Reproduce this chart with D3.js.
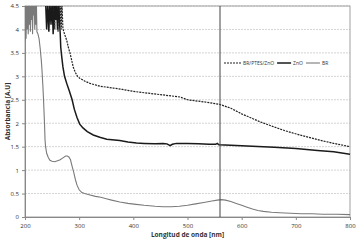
<!DOCTYPE html>
<html>
<head>
<meta charset="utf-8">
<script src="https://cdn.jsdelivr.net/npm/d3@7"></script>
<style>
  body { margin: 0; background: #fff; }
  text { font-family: "Open Sans", "Noto Sans", sans-serif; fill: #333; }
</style>
</head>
<body>
<div id="chart"></div>
<script>
// data (values above 4.5 are clipped by the plot)
var brWl = [200,201,202,203,204,205,206,207,208,209,210,211,212,213,214,215,216,217,218,219,220,221,222,224,226,228,230,231,232,233,234,235,236,237,238,240,243,246,250,255,260,265,270,275,278,281,284,287,290,293,296,300,305,310,320,330,340,350,360,375,390,405,420,440,455,470,485,500,515,530,545,555,563,570,580,590,600,610,620,630,640,655,670,690,710,730,750,775,800]
var brVal = [3.75,4.6,3.8,4.6,4.0,4.6,3.9,4.6,4.1,4.6,3.95,4.6,4.2,4.6,3.9,4.6,4.3,4.6,4.0,4.6,4.1,4.6,3.95,3.9,3.8,3.6,3.35,3.2,3.0,2.8,2.56,2.28,2.0,1.64,1.5,1.36,1.27,1.21,1.19,1.18,1.2,1.22,1.26,1.3,1.3,1.28,1.22,1.08,0.95,0.8,0.68,0.58,0.52,0.5,0.47,0.44,0.42,0.39,0.36,0.32,0.29,0.27,0.25,0.23,0.22,0.22,0.23,0.25,0.28,0.31,0.34,0.36,0.37,0.36,0.33,0.29,0.25,0.21,0.17,0.14,0.12,0.1,0.09,0.08,0.07,0.07,0.06,0.06,0.05]

var znoWl = [200,238,240,242,244,246,248,250,252,254,256,258,260,262,264,265,266,268,270,273,277,282,287,291,296,301,307,315,326,338,351,375,390,406,420,440,455,462,468,472,480,500,520,540,552,555,558,580,620,660,700,740,770,800]
var znoVal = [4.6,4.6,4.0,4.6,3.95,4.6,4.1,4.6,3.9,4.6,4.2,4.6,4.0,4.6,4.1,3.92,3.62,3.4,3.2,3.0,2.85,2.68,2.5,2.3,2.12,1.98,1.9,1.82,1.75,1.7,1.66,1.63,1.6,1.58,1.57,1.56,1.57,1.56,1.52,1.55,1.57,1.57,1.56,1.55,1.55,1.57,1.54,1.53,1.51,1.49,1.46,1.42,1.39,1.34]

var ptesWl = [200,250,252,253,255,256,258,259,261,262,264,265,267,268,270,273,277,280,283,286,289,293,297,301,310,320,338,363,380,400,420,450,486,500,520,540,560,580,600,620,634,660,680,707,740,770,800]
var ptesVal = [4.6,4.6,4.1,4.6,4.0,4.6,4.2,4.6,3.95,4.6,4.1,4.6,4.0,4.6,4.02,3.9,3.77,3.62,3.5,3.35,3.2,3.08,3.0,2.96,2.9,2.85,2.79,2.75,2.72,2.68,2.65,2.61,2.56,2.5,2.47,2.44,2.4,2.32,2.2,2.1,2.03,1.92,1.84,1.75,1.65,1.57,1.5]

var xTicks = [200,300,400,500,600,700,800]
var yTicks = [0,0.5,1,1.5,2,2.5,3,3.5,4,4.5]
var markerWl = 560
var legendNames = ["BR/PTES/ZnO", "ZnO", "BR"]

var margin = { top: 6, right: 10, bottom: 25, left: 25 }
var width = 360 - margin.left - margin.right
var height = 242 - margin.top - margin.bottom

var svg = d3.select("#chart")
  .append("svg")
  .attr("width", 360)
  .attr("height", 242)
  .append("g")
  .attr("transform", "translate(" + margin.left + "," + margin.top + ")")

var x = d3.scaleLinear().domain([200, 800]).range([0, width])
var y = d3.scaleLinear().domain([0, 4.5]).range([height, 0])

svg.append("clipPath").attr("id", "clip")
  .append("rect").attr("width", width).attr("height", height)

// gridlines
svg.append("g")
  .selectAll("line")
  .data(yTicks.slice(1))
  .enter().append("line")
  .attr("x1", 0).attr("x2", width)
  .attr("y1", function (d) { return y(d) }).attr("y2", function (d) { return y(d) })
  .attr("stroke", "#d4d4d4")
  .attr("stroke-dasharray", "2,1")

// plot border
svg.append("rect")
  .attr("width", width).attr("height", height)
  .attr("fill", "none").attr("stroke", "#a0a0a0")

// axes
var xAxis = svg.append("g")
  .attr("transform", "translate(0," + height + ")")
  .call(d3.axisBottom(x).tickValues(xTicks).tickSize(3).tickFormat(d3.format("d")))
var yAxis = svg.append("g")
  .call(d3.axisLeft(y).tickValues(yTicks).tickSize(3).tickFormat(function (d) { return d }))
;[xAxis, yAxis].forEach(function (a) {
  a.select(".domain").attr("stroke", "#888")
  a.selectAll(".tick line").attr("stroke", "#888")
  a.selectAll("text").style("font-size", "6px").attr("fill", "#333")
})
xAxis.selectAll("text").attr("dy", "0.9em")

var line = d3.line()
  .x(function (d) { return x(d[0]) })
  .y(function (d) { return y(d[1]) })

var series = [
  { wl: ptesWl, val: ptesVal, color: "#222", w: 1.2, dash: "2,1" },
  { wl: znoWl, val: znoVal, color: "#1a1a1a", w: 1.5, dash: null },
  { wl: brWl, val: brVal, color: "#7a7a7a", w: 1.1, dash: null }
]

var plot = svg.append("g").attr("clip-path", "url(#clip)")
series.forEach(function (s) {
  plot.append("path")
    .datum(d3.zip(s.wl, s.val))
    .attr("d", line)
    .attr("fill", "none")
    .attr("stroke", s.color)
    .attr("stroke-width", s.w)
    .attr("stroke-dasharray", s.dash)
})

// vertical marker
svg.append("line")
  .attr("x1", x(markerWl)).attr("x2", x(markerWl))
  .attr("y1", 0).attr("y2", height)
  .attr("stroke", "#444").attr("stroke-width", 1)

// legend, laid out left to right
var leg = svg.append("g").attr("transform", "translate(199,57)")
var cx = 0
legendNames.forEach(function (name, i) {
  var s = series[i]
  var len = i === 0 ? 17 : 14
  leg.append("line")
    .attr("x1", cx).attr("x2", cx + len)
    .attr("stroke", s.color).attr("stroke-width", s.w)
    .attr("stroke-dasharray", s.dash)
  var t = leg.append("text")
    .attr("x", cx + len + 2).attr("y", 1.8)
    .style("font-size", "5px")
    .text(name)
  cx += len + 2 + t.node().getComputedTextLength() + 3
})

// axis titles
svg.append("text")
  .attr("x", width / 2).attr("y", height + 20)
  .attr("text-anchor", "middle")
  .style("font-size", "6.5px").style("font-weight", "bold")
  .text("Longitud de onda [nm]")
svg.append("text")
  .attr("transform", "rotate(-90)")
  .attr("x", -height / 2).attr("y", -15)
  .attr("text-anchor", "middle")
  .style("font-size", "6.5px").style("font-weight", "bold")
  .text("Absorbancia [A.U]")
</script>
</body>
</html>
